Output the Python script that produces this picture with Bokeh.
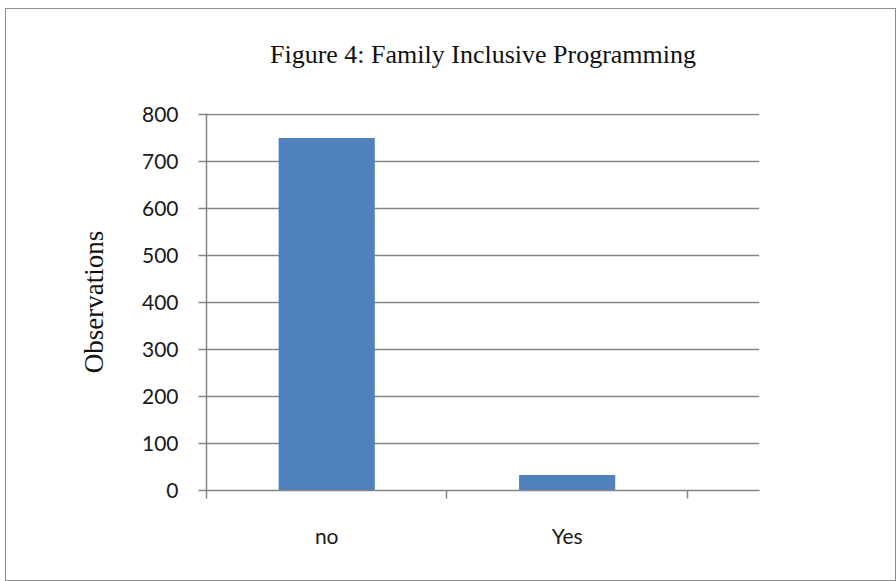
from bokeh.plotting import figure
from bokeh.models import FixedTicker, Range1d, Title
from bokeh.embed import file_html
from bokeh.resources import INLINE

categories = ["no", "Yes"]
observations = [750, 33]
y_ticks = [0, 100, 200, 300, 400, 500, 600, 700, 800]
title_text = "Figure 4: Family Inclusive Programming"

xs = [i + 0.5 for i in range(len(categories))]

p = figure(width=891, height=573, output_backend="svg", toolbar_location=None,
           x_range=Range1d(0, 2.3), y_range=Range1d(0, 802))
p.margin = (8, 0, 0, 5)
p.styles = {"border": "1px solid #8c8c8c"}
p.min_border_left = 200
p.min_border_right = 138
p.min_border_top = 104
p.min_border_bottom = 92
p.outline_line_color = None
p.background_fill_color = "white"
p.border_fill_color = "white"

# spacer between the title and the plot area (nearest the frame)
p.add_layout(Title(text=" ", text_font_size="1px", standoff=37), "above")
# main title
p.add_layout(Title(text=title_text, align="center", text_font="Liberation Serif",
                   text_font_size="26px", text_font_style="normal",
                   text_color="#111111", standoff=10, offset=-6), "above")

p.vbar(x=xs, top=observations, width=0.4, bottom=0, fill_color="#4F81BD", line_color=None)

# grid
p.xgrid.grid_line_color = None
p.ygrid.grid_line_color = "#868686"
p.ygrid.grid_line_width = 1.5
p.ygrid.ticker = FixedTicker(ticks=y_ticks)

label_font = "Lato"
label_color = "#1a1a1a"

# y axis
p.yaxis.ticker = FixedTicker(ticks=y_ticks)
p.yaxis.axis_line_color = "#868686"
p.yaxis.axis_line_width = 1.5
p.yaxis.major_tick_line_color = "#868686"
p.yaxis.major_tick_line_width = 1.5
p.yaxis.major_tick_out = 8
p.yaxis.major_tick_in = 0
p.yaxis.minor_tick_line_color = None
p.yaxis.major_label_text_font = label_font
p.yaxis.major_label_text_font_size = "21px"
p.yaxis.major_label_text_color = label_color
p.yaxis.major_label_standoff = 20
p.yaxis.axis_label = "Observations"
p.yaxis.axis_label_text_font = "Liberation Serif"
p.yaxis.axis_label_text_font_style = "normal"
p.yaxis.axis_label_text_font_size = "27px"
p.yaxis.axis_label_text_color = "#111111"
p.yaxis.axis_label_standoff = 30

# x axis
p.xaxis.ticker = FixedTicker(ticks=xs, minor_ticks=list(range(len(categories) + 1)))
p.xaxis.major_label_overrides = {x: c for x, c in zip(xs, categories)}
p.xaxis.axis_line_color = "#868686"
p.xaxis.axis_line_width = 1.5
p.xaxis.major_tick_line_color = None
p.xaxis.major_tick_out = 6
p.xaxis.minor_tick_line_color = "#868686"
p.xaxis.minor_tick_line_width = 1.5
p.xaxis.minor_tick_out = 8
p.xaxis.minor_tick_in = 0
p.xaxis.major_label_text_font = label_font
p.xaxis.major_label_text_font_size = "21px"
p.xaxis.major_label_text_color = label_color
p.xaxis.major_label_standoff = 24

open("out.html", "w").write(file_html(p, INLINE))
